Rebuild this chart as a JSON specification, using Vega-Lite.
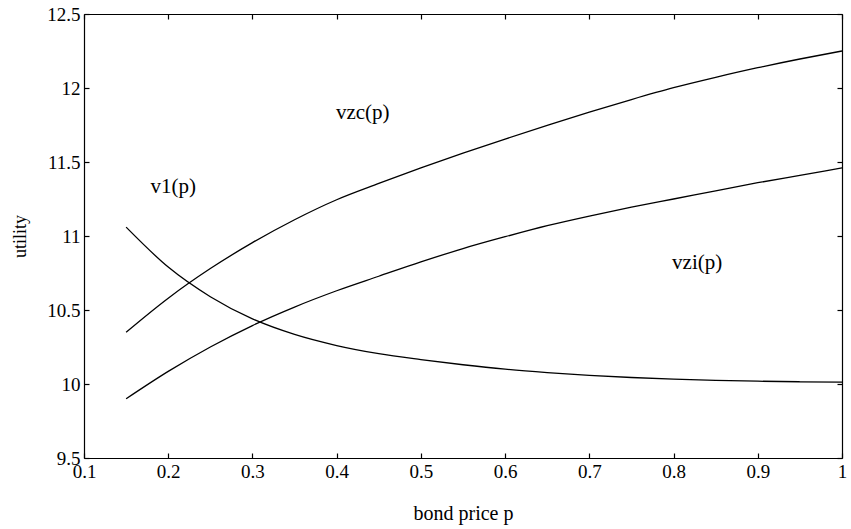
{
  "$schema": "https://vega.github.io/schema/vega-lite/v6.json",
  "autosize": {"type": "none"},
  "width": 758,
  "height": 444,
  "padding": {"left": 84, "top": 14, "right": 9, "bottom": 71},
  "background": "white",
  "config": {
    "view": {"stroke": null},
    "font": "Liberation Serif",
    "axis": {"grid": false, "domainColor": "black", "tickColor": "black", "labelColor": "black", "titleColor": "black", "labelFont": "Liberation Serif", "titleFont": "Liberation Serif", "labelFontSize": 19, "titleFontSize": 19, "titleFontWeight": "normal", "labelFlush": false, "labelOverlap": false, "domainWidth": 1.2, "tickWidth": 1.2, "format": "~g"}
  },
  "datasets": {
    "curves": [
      {"p": 0.15, "u": 10.35, "s": "vzc"}, {"p": 0.2, "u": 10.58, "s": "vzc"}, {"p": 0.25, "u": 10.78, "s": "vzc"}, {"p": 0.3, "u": 10.955, "s": "vzc"}, {"p": 0.35, "u": 11.11, "s": "vzc"}, {"p": 0.4, "u": 11.245, "s": "vzc"}, {"p": 0.45, "u": 11.355, "s": "vzc"}, {"p": 0.5, "u": 11.46, "s": "vzc"}, {"p": 0.55, "u": 11.56, "s": "vzc"}, {"p": 0.6, "u": 11.655, "s": "vzc"}, {"p": 0.65, "u": 11.747, "s": "vzc"}, {"p": 0.7, "u": 11.837, "s": "vzc"}, {"p": 0.75, "u": 11.922, "s": "vzc"}, {"p": 0.8, "u": 12.002, "s": "vzc"}, {"p": 0.85, "u": 12.072, "s": "vzc"}, {"p": 0.9, "u": 12.137, "s": "vzc"}, {"p": 0.95, "u": 12.196, "s": "vzc"}, {"p": 1.0, "u": 12.25, "s": "vzc"},
      {"p": 0.15, "u": 9.9, "s": "vzi"}, {"p": 0.2, "u": 10.085, "s": "vzi"}, {"p": 0.25, "u": 10.25, "s": "vzi"}, {"p": 0.3, "u": 10.395, "s": "vzi"}, {"p": 0.35, "u": 10.52, "s": "vzi"}, {"p": 0.4, "u": 10.63, "s": "vzi"}, {"p": 0.45, "u": 10.728, "s": "vzi"}, {"p": 0.5, "u": 10.825, "s": "vzi"}, {"p": 0.55, "u": 10.915, "s": "vzi"}, {"p": 0.6, "u": 10.995, "s": "vzi"}, {"p": 0.65, "u": 11.07, "s": "vzi"}, {"p": 0.7, "u": 11.135, "s": "vzi"}, {"p": 0.75, "u": 11.195, "s": "vzi"}, {"p": 0.8, "u": 11.25, "s": "vzi"}, {"p": 0.85, "u": 11.305, "s": "vzi"}, {"p": 0.9, "u": 11.36, "s": "vzi"}, {"p": 0.95, "u": 11.41, "s": "vzi"}, {"p": 1.0, "u": 11.46, "s": "vzi"},
      {"p": 0.15, "u": 11.06, "s": "v1"}, {"p": 0.2, "u": 10.79, "s": "v1"}, {"p": 0.25, "u": 10.59, "s": "v1"}, {"p": 0.3, "u": 10.44, "s": "v1"}, {"p": 0.35, "u": 10.335, "s": "v1"}, {"p": 0.4, "u": 10.26, "s": "v1"}, {"p": 0.45, "u": 10.205, "s": "v1"}, {"p": 0.5, "u": 10.165, "s": "v1"}, {"p": 0.55, "u": 10.13, "s": "v1"}, {"p": 0.6, "u": 10.1, "s": "v1"}, {"p": 0.65, "u": 10.077, "s": "v1"}, {"p": 0.7, "u": 10.058, "s": "v1"}, {"p": 0.75, "u": 10.044, "s": "v1"}, {"p": 0.8, "u": 10.033, "s": "v1"}, {"p": 0.85, "u": 10.025, "s": "v1"}, {"p": 0.9, "u": 10.019, "s": "v1"}, {"p": 0.95, "u": 10.015, "s": "v1"}, {"p": 1.0, "u": 10.012, "s": "v1"}
    ],
    "labels": [
      {"p": 0.431, "u": 11.83, "t": "vzc(p)"},
      {"p": 0.206, "u": 11.33, "t": "v1(p)"},
      {"p": 0.828, "u": 10.82, "t": "vzi(p)"}
    ]
  },
  "layer": [
    {
      "data": {"name": "curves"},
      "mark": {"type": "line", "color": "black", "strokeWidth": 1.3, "interpolate": "monotone"},
      "encoding": {
        "x": {"field": "p", "type": "quantitative", "scale": {"domain": [0.1, 1], "nice": false, "zero": false}, "axis": {"orient": "bottom", "title": "bond price p", "titleFontSize": 20, "values": [0.1, 0.2, 0.3, 0.4, 0.5, 0.6, 0.7, 0.8, 0.9, 1], "tickSize": -5, "labelPadding": 9, "titlePadding": 22}},
        "y": {"field": "u", "type": "quantitative", "scale": {"domain": [9.5, 12.5], "nice": false, "zero": false}, "axis": {"orient": "left", "title": "utility", "titleFontSize": 18, "values": [9.5, 10, 10.5, 11, 11.5, 12, 12.5], "tickSize": -5, "labelPadding": 9, "titlePadding": 17}},
        "detail": {"field": "s"}
      }
    },
    {
      "data": {"name": "curves"},
      "mark": {"type": "line", "opacity": 0},
      "encoding": {
        "x": {"field": "p", "type": "quantitative", "axis": {"orient": "top", "title": null, "labels": false, "values": [0.1, 0.2, 0.3, 0.4, 0.5, 0.6, 0.7, 0.8, 0.9, 1], "tickSize": -5}},
        "y": {"field": "u", "type": "quantitative", "axis": {"orient": "right", "title": null, "labels": false, "values": [9.5, 10, 10.5, 11, 11.5, 12, 12.5], "tickSize": -5}},
        "detail": {"field": "s"}
      }
    },
    {
      "data": {"name": "labels"},
      "mark": {"type": "text", "font": "Liberation Serif", "fontSize": 21, "color": "black", "align": "center", "baseline": "middle"},
      "encoding": {
        "x": {"field": "p", "type": "quantitative", "axis": null},
        "y": {"field": "u", "type": "quantitative", "axis": null},
        "text": {"field": "t"}
      }
    }
  ],
  "resolve": {"axis": {"x": "independent", "y": "independent"}}
}
